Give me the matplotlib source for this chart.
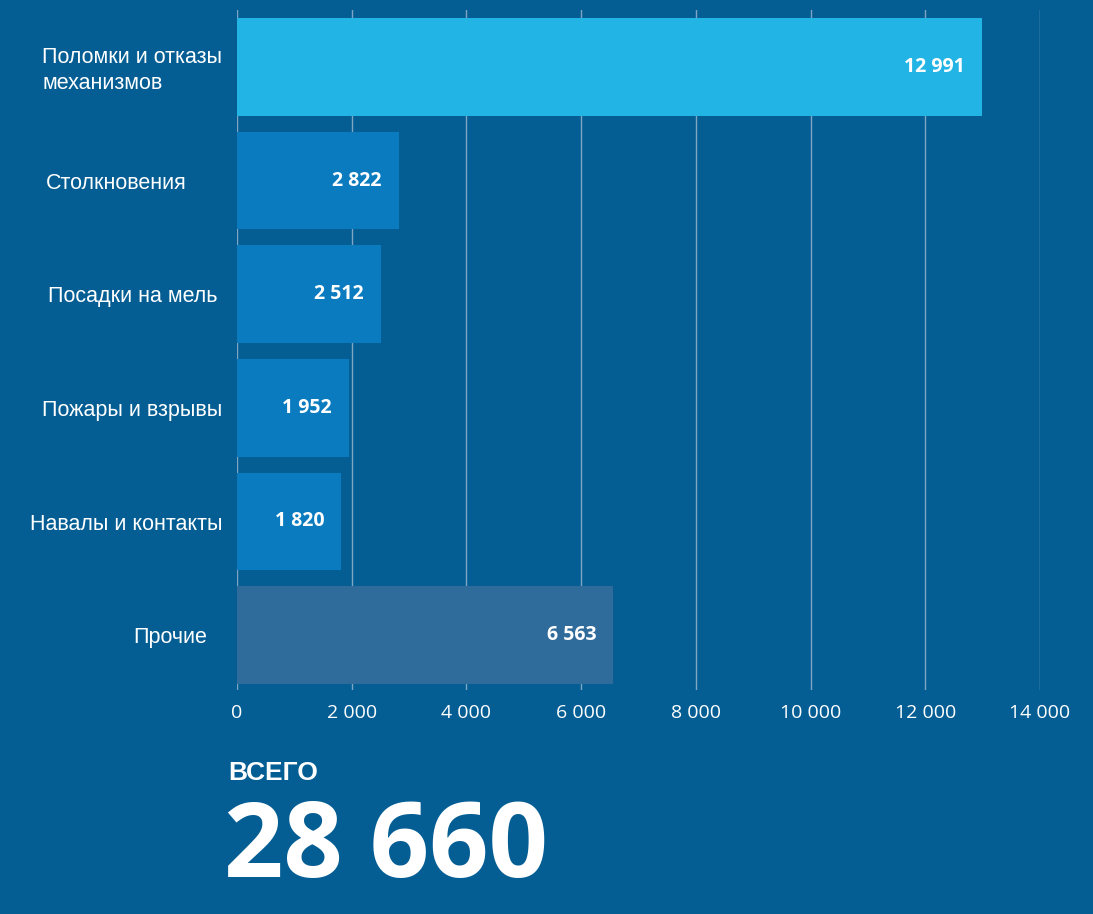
import matplotlib.pyplot as plt

# --- data ---
categories = ["Поломки и отказы\nмеханизмов", "Столкновения", "Посадки на мель",
              "Пожары и взрывы", "Навалы и контакты", "Прочие"]
values = [12991, 2822, 2512, 1952, 1820, 6563]
value_labels = ["12 991", "2 822", "2 512", "1 952", "1 820", "6 563"]
tick_values = [0, 2000, 4000, 6000, 8000, 10000, 12000, 14000]
tick_labels = ["0", "2 000", "4 000", "6 000", "8 000", "10 000", "12 000", "14 000"]
total_label = "28 660"

BG = "#045E94"
bar_colors = ["#22B4E4", "#0A7BBF", "#0A7BBF", "#0A7BBF", "#0A7BBF", "#2F6B9B"]

fig = plt.figure(figsize=(10.93, 9.14), dpi=100, facecolor=BG)
ax = fig.add_axes([237 / 1093, 1 - 690 / 914, 803 / 1093, 680 / 914])
ax.set_facecolor(BG)

ypos = list(range(len(values)))
ax.barh(ypos, values, height=0.86, color=bar_colors, zorder=2)
ax.set_xlim(0, 14000)
ax.set_ylim(5.484, -0.502)

ax.set_xticks(tick_values)
ax.set_xticklabels(tick_labels, color="white", fontsize=14, family="Open Sans")
ax.tick_params(axis="x", length=0, pad=10)
ax.set_yticks([])
ax.grid(axis="x", color="#7FA5C4", linewidth=1, zorder=1)
for s in ax.spines.values():
    s.set_visible(False)

for y, v, lab in zip(ypos, values, value_labels):
    ax.text(v - 300, y, lab, ha="right", va="center", color="white",
            fontsize=14, fontweight="bold", family="Open Sans", zorder=3)

label_x = [133, 116, 133, 132, 126, 170]
for y, cat, lx in zip(ypos, categories, label_x):
    px = 1 - (67 + 113.6 * y) / 914
    if "\n" in cat:
        fig.text(42 / 1093, px - 0.004, cat, ha="left", va="center", color="white",
                 fontsize=15.5, family="Liberation Sans", linespacing=1.3)
    else:
        fig.text(lx / 1093, px - 0.003, cat, ha="center", va="center", color="white",
                 fontsize=15.5, family="Liberation Sans")

fig.text(228 / 1093, 1 - 773 / 914, "ВСЕГО", ha="left", va="center", color="white",
         fontsize=19, fontweight="bold", family="Liberation Sans")
fig.text(224 / 1093, 1 - 850 / 914, total_label, ha="left", va="center", color="white",
         fontsize=75, fontweight="bold", family="Open Sans")

fig.savefig("out.png", dpi=100, facecolor=BG)
